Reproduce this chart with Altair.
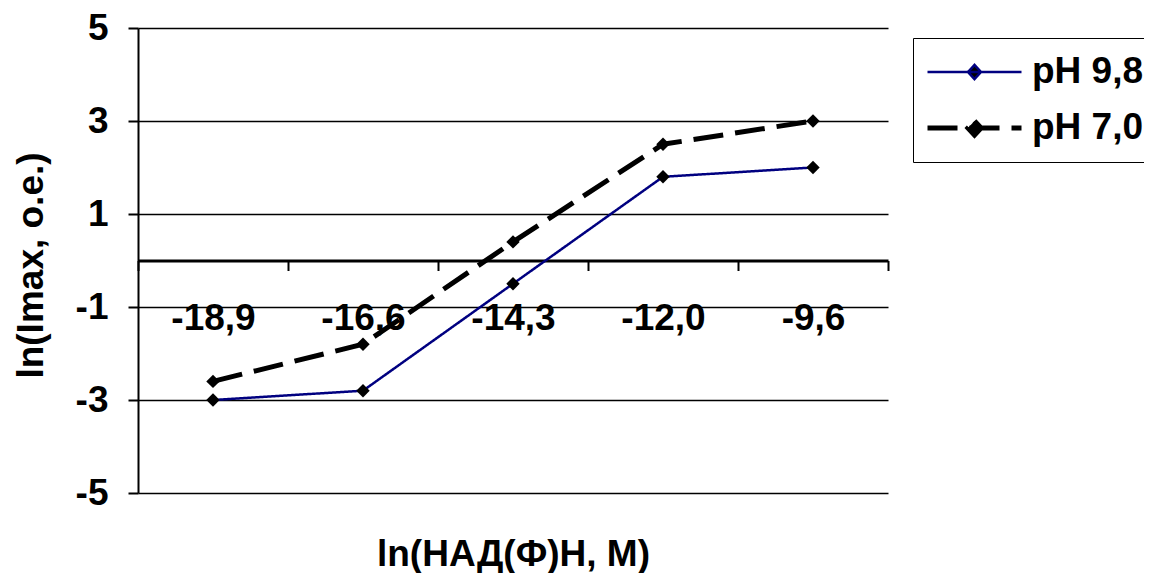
import altair as alt
import pandas as pd

categories = ["-18,9", "-16,6", "-14,3", "-12,0", "-9,6"]
ph98 = [-3.0, -2.8, -0.5, 1.8, 2.0]
ph70 = [-2.6, -1.8, 0.4, 2.5, 3.0]
series_names = ["pH 9,8", "pH 7,0"]
y_ticks = [-5, -3, -1, 1, 3, 5]

rows = []
for name, vals in zip(series_names, [ph98, ph70]):
    for c, v in zip(categories, vals):
        rows.append({"x": c, "y": v, "series": name})
df = pd.DataFrame(rows)

FONT = "Liberation Sans"
FS = 37

x_axis = alt.Axis(
    orient="bottom", offset=-232.5, tickBand="extent", ticks=True, tickSize=10,
    tickWidth=2, tickColor="black", domainColor="black", domainWidth=3,
    labelAngle=0, labelPadding=30, labelFont=FONT, labelFontSize=FS,
    labelFontWeight="bold", labelColor="black", grid=False,
    title="ln(НАД(Ф)Н, М)", titleFont=FONT, titleFontSize=FS, titleFontWeight="bold",
    titleColor="black", titleX=375, titleY=294, titleBaseline="middle", titleAlign="center",
)
y_axis = alt.Axis(
    values=y_ticks, tickSize=10, tickWidth=2, tickColor="black", domainColor="black",
    domainWidth=2, grid=True, gridColor="black", gridWidth=1.5,
    labelExpr="replace(datum.label, '\u2212', '-')",
    labelFont=FONT, labelFontSize=FS, labelFontWeight="bold", labelColor="black",
    labelPadding=20, labelFlush=False, labelOverlap=False,
    title="ln(Imax, o.e.)", titleFont=FONT, titleFontSize=FS, titleFontWeight="bold",
    titleColor="black", titleX=-107, titleY=237, titleBaseline="middle", titleAlign="center",
)

leg = alt.Legend(
    title=None, orient="none", legendX=775, legendY=10, strokeColor="black",
    fillColor="white", padding=12,
    symbolType="M-1,0H1M0,-0.15L0.14,0L0,0.15L-0.14,0Z", symbolSize=8836,
    symbolFillColor="black", clipHeight=44, rowPadding=12,
    labelFont=FONT, labelFontSize=FS, labelFontWeight="bold", labelColor="black",
    labelOffset=8, symbolOpacity=1,
)

x_enc = alt.X("x:O", sort=categories,
              scale=alt.Scale(type="band", paddingInner=0, paddingOuter=0),
              axis=x_axis, bandPosition=0.5)
y_enc = alt.Y("y:Q", scale=alt.Scale(domain=[-5, 5], nice=False, zero=False), axis=y_axis)

lines = alt.Chart(df).mark_line().encode(
    x=x_enc, y=y_enc,
    color=alt.Color("series:N", sort=series_names,
                    scale=alt.Scale(domain=series_names, range=["#000080", "black"]), legend=leg),
    strokeDash=alt.StrokeDash("series:N", sort=series_names,
                              scale=alt.Scale(domain=series_names, range=[[1, 0], [30, 12]]), legend=leg),
    strokeWidth=alt.StrokeWidth("series:N", sort=series_names,
                                scale=alt.Scale(domain=series_names, range=[2.5, 5]), legend=leg),
)

points = alt.Chart(df).mark_point(shape="diamond", filled=True, size=180, color="black", opacity=1).encode(
    x=alt.X("x:O", sort=categories, bandPosition=0.5),
    y=alt.Y("y:Q"),
    detail="series:N",
)

chart = alt.layer(lines, points).properties(
    width=750, height=465,
    autosize=alt.AutoSizeParams(type="none"),
    padding={"left": 130, "top": 20, "right": 256, "bottom": 80},
).configure_view(stroke="transparent")

chart.save("out.html", embed_options={"renderer": "svg", "actions": False})
